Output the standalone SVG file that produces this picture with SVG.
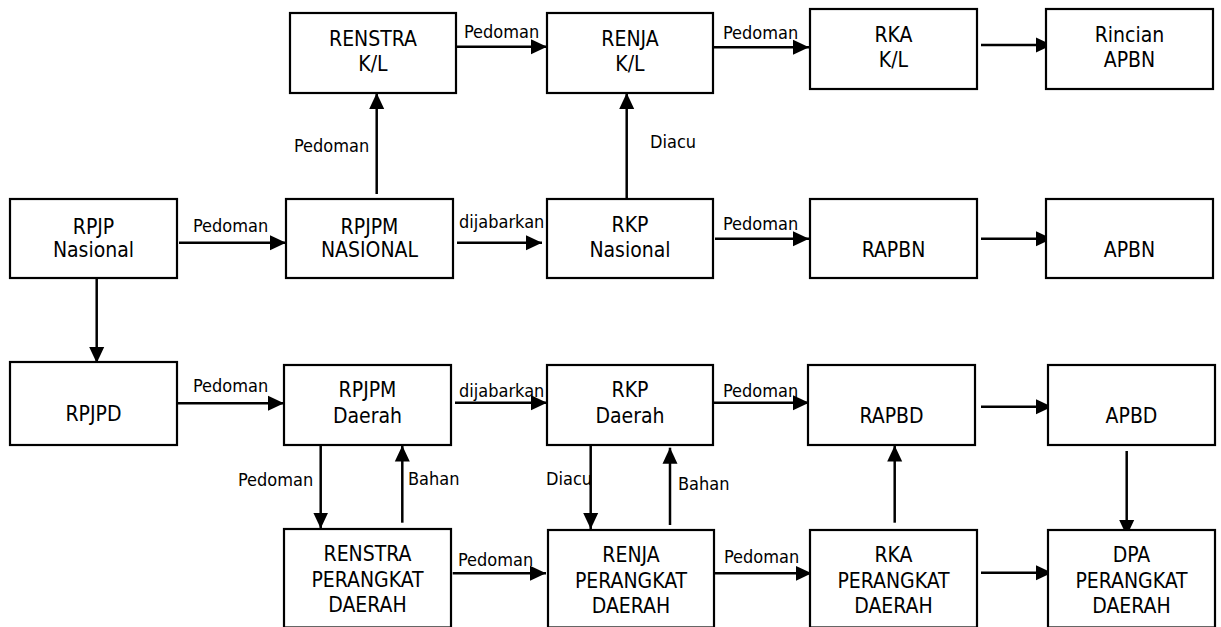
<svg xmlns="http://www.w3.org/2000/svg" width="1221" height="627" viewBox="0 0 1221 627">
<style>
.box{fill:#fff;stroke:#000;stroke-width:2.2}
.nt{font-family:"DejaVu Sans Condensed","DejaVu Sans",sans-serif;font-stretch:condensed;font-size:21px;text-anchor:middle;fill:#000}
.lb{font-family:"DejaVu Sans Condensed","DejaVu Sans",sans-serif;font-stretch:condensed;font-size:18px;fill:#000}
.ln{stroke:#000;stroke-width:2.5;fill:none;marker-end:url(#ah)}
</style>
<defs>
<marker id="ah" markerUnits="userSpaceOnUse" markerWidth="16" markerHeight="16" refX="16" refY="8" orient="auto">
<path d="M0,0.5 L16,8 L0,15.5 Z" fill="#000"/>
</marker>
</defs>
<rect width="1221" height="627" fill="#fff"/>
<g id="connectors">
<line class="ln" x1="179" y1="242.7" x2="286" y2="242.7"/>
<line class="ln" x1="376.7" y1="194" x2="376.7" y2="93"/>
<line class="ln" x1="456" y1="46.7" x2="547" y2="46.7"/>
<line class="ln" x1="713" y1="47.3" x2="809" y2="47.3"/>
<line class="ln" x1="981" y1="45" x2="1052" y2="45"/>
<line class="ln" x1="457" y1="242.7" x2="542" y2="242.7"/>
<line class="ln" x1="626.7" y1="199" x2="626.7" y2="93"/>
<line class="ln" x1="715" y1="238.7" x2="809" y2="238.7"/>
<line class="ln" x1="981" y1="238.7" x2="1052" y2="238.7"/>
<line class="ln" x1="96.7" y1="279" x2="96.7" y2="363"/>
<line class="ln" x1="177" y1="403.3" x2="284" y2="403.3"/>
<line class="ln" x1="455" y1="402.7" x2="547" y2="402.7"/>
<line class="ln" x1="712" y1="402.7" x2="809" y2="402.7"/>
<line class="ln" x1="981" y1="406.7" x2="1052" y2="406.7"/>
<line class="ln" x1="320.7" y1="443" x2="320.7" y2="528.5"/>
<line class="ln" x1="402.3" y1="522.7" x2="402.3" y2="445.5"/>
<line class="ln" x1="590.7" y1="443" x2="590.7" y2="529"/>
<line class="ln" x1="670" y1="525" x2="670" y2="447.7"/>
<line class="ln" x1="894.7" y1="522.7" x2="894.7" y2="445.5"/>
<line class="ln" x1="1126.7" y1="451" x2="1126.7" y2="536"/>
<line class="ln" x1="452.7" y1="573.3" x2="546" y2="573.3"/>
<line class="ln" x1="715" y1="573.3" x2="811.7" y2="573.3"/>
<line class="ln" x1="981" y1="572.7" x2="1052" y2="572.7"/>
<text class="lb" x="193" y="232">Pedoman</text>
<text class="lb" x="294" y="152">Pedoman</text>
<text class="lb" x="464" y="38">Pedoman</text>
<text class="lb" x="723" y="39">Pedoman</text>
<text class="lb" x="459" y="228">dijabarkan</text>
<text class="lb" x="650" y="148">Diacu</text>
<text class="lb" x="723" y="230">Pedoman</text>
<text class="lb" x="193" y="392">Pedoman</text>
<text class="lb" x="459" y="397">dijabarkan</text>
<text class="lb" x="723" y="397">Pedoman</text>
<text class="lb" x="238" y="486">Pedoman</text>
<text class="lb" x="408" y="485">Bahan</text>
<text class="lb" x="546" y="485">Diacu</text>
<text class="lb" x="678" y="490">Bahan</text>
<text class="lb" x="458" y="566">Pedoman</text>
<text class="lb" x="724" y="563">Pedoman</text>
</g>
<g id="renstra-kl"><rect class="box" x="290" y="13" width="166" height="80"/><text class="nt" x="373" y="45.7">RENSTRA</text><text class="nt" x="373" y="70.7">K/L</text></g>
<g id="renja-kl"><rect class="box" x="547" y="13" width="166" height="80"/><text class="nt" x="630" y="45.7">RENJA</text><text class="nt" x="630" y="70.7">K/L</text></g>
<g id="rka-kl"><rect class="box" x="810" y="9" width="167" height="80"/><text class="nt" x="893.5" y="41.7">RKA</text><text class="nt" x="893.5" y="66.7">K/L</text></g>
<g id="rincian-apbn"><rect class="box" x="1046" y="9" width="167" height="80"/><text class="nt" x="1129.5" y="41.7">Rincian</text><text class="nt" x="1129.5" y="66.7">APBN</text></g>
<g id="rpjp-nasional"><rect class="box" x="10" y="199" width="167" height="79"/><text class="nt" x="93.5" y="234">RPJP</text><text class="nt" x="93.5" y="257">Nasional</text></g>
<g id="rpjpm-nasional"><rect class="box" x="286" y="199" width="167" height="79"/><text class="nt" x="369.5" y="234">RPJPM</text><text class="nt" x="369.5" y="257">NASIONAL</text></g>
<g id="rkp-nasional"><rect class="box" x="547" y="199" width="166" height="79"/><text class="nt" x="630" y="232">RKP</text><text class="nt" x="630" y="256.7">Nasional</text></g>
<g id="rapbn"><rect class="box" x="810" y="199" width="167" height="79"/><text class="nt" x="893.5" y="256.7">RAPBN</text></g>
<g id="apbn"><rect class="box" x="1046" y="199" width="167" height="79"/><text class="nt" x="1129.5" y="256.7">APBN</text></g>
<g id="rpjpd"><rect class="box" x="10" y="362" width="167" height="83"/><text class="nt" x="93.5" y="420.7">RPJPD</text></g>
<g id="rpjpm-daerah"><rect class="box" x="284" y="365" width="167" height="80"/><text class="nt" x="367.5" y="396.7">RPJPM</text><text class="nt" x="367.5" y="422.7">Daerah</text></g>
<g id="rkp-daerah"><rect class="box" x="547" y="365" width="166" height="80"/><text class="nt" x="630" y="396.7">RKP</text><text class="nt" x="630" y="422.7">Daerah</text></g>
<g id="rapbd"><rect class="box" x="808" y="365" width="167" height="80"/><text class="nt" x="891.5" y="422.7">RAPBD</text></g>
<g id="apbd"><rect class="box" x="1048" y="365" width="167" height="80"/><text class="nt" x="1131.5" y="422.7">APBD</text></g>
<g id="renstra-pd"><rect class="box" x="284" y="529" width="167" height="98.5"/><text class="nt" x="367.5" y="560.7">RENSTRA</text><text class="nt" x="367.5" y="586.7">PERANGKAT</text><text class="nt" x="367.5" y="612.3">DAERAH</text></g>
<g id="renja-pd"><rect class="box" x="548" y="530" width="166" height="97.5"/><text class="nt" x="631" y="562.3">RENJA</text><text class="nt" x="631" y="588.3">PERANGKAT</text><text class="nt" x="631" y="613.3">DAERAH</text></g>
<g id="rka-pd"><rect class="box" x="810" y="530" width="167" height="97.5"/><text class="nt" x="893.5" y="562.3">RKA</text><text class="nt" x="893.5" y="588.3">PERANGKAT</text><text class="nt" x="893.5" y="613.3">DAERAH</text></g>
<g id="dpa-pd"><rect class="box" x="1048" y="530" width="167" height="97.5"/><text class="nt" x="1131.5" y="562.3">DPA</text><text class="nt" x="1131.5" y="588.3">PERANGKAT</text><text class="nt" x="1131.5" y="613.3">DAERAH</text></g>
</svg>
